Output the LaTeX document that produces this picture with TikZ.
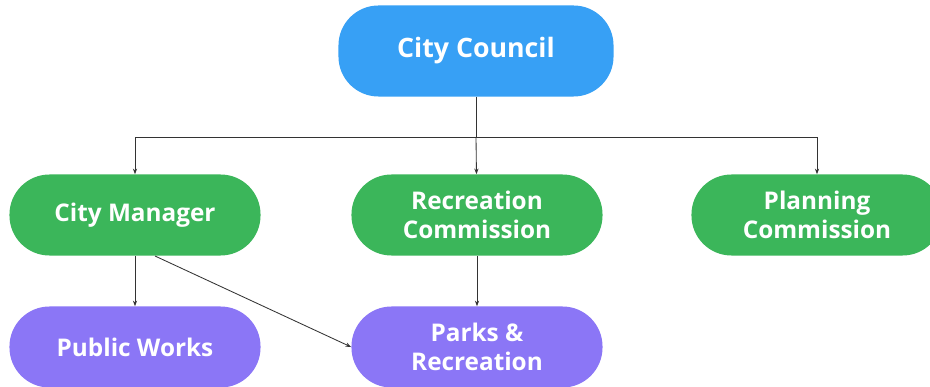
\documentclass[tikz,border=0pt]{standalone}
\usepackage{fontspec}
\setmainfont{Open Sans}
\usepackage{tikz}
\usetikzlibrary{arrows.meta}

\definecolor{councilblue}{RGB}{55,160,245}
\definecolor{boardgreen}{RGB}{59,182,90}
\definecolor{deptpurple}{RGB}{139,118,246}

\begin{document}
\begin{tikzpicture}[x=0.025cm,y=-0.025cm,
  unit/.style={rounded corners=1cm,text=white,font=\bfseries\fontsize{17.3}{20.5}\selectfont,
    align=center,minimum width=6.275cm,minimum height=2.025cm,inner sep=2pt},
  link/.style={line width=0.6pt,black!80,-{Stealth[length=4pt,width=3pt]}}]
\useasboundingbox[fill=white] (0,0) rectangle (930,387);

\node[unit,fill=councilblue,minimum width=6.875cm,minimum height=2.275cm,
  font=\bfseries\fontsize{19}{22}\selectfont] (CC) at (476,51) {City Council};
\node[unit,fill=boardgreen] (CM) at (135,215) {City Manager};
\node[unit,fill=boardgreen] (RC) at (477,215) {Recreation\\Commission};
\node[unit,fill=boardgreen] (PC) at (817,215) {Planning\\Commission};
\node[unit,fill=deptpurple] (PW) at (135,347) {Public Works};
\node[unit,fill=deptpurple] (PR) at (477,347) {Parks \&\\Recreation};

\coordinate (J) at (476,137);
\coordinate (CMd) at (155,256);

\draw[line width=0.6pt,black!80] (CC) -- (J);
\draw[link] (J) -| (CM);
\draw[link] (J) -- (RC);
\draw[link] (J) -| (PC);
\draw[link] (CM) -- (PW);
\draw[link] (RC) -- (PR);
\draw[link] (CMd) -- (PR.west);
\end{tikzpicture}
\end{document}
